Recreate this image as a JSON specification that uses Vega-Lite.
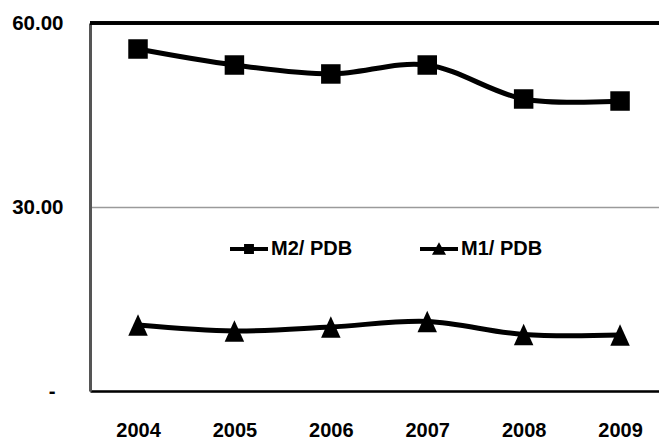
{
  "$schema": "https://vega.github.io/schema/vega-lite/v6.json",
  "width": 569,
  "height": 368,
  "autosize": "none",
  "padding": {"left": 90, "top": 23, "right": 0, "bottom": 50},
  "background": "white",
  "config": {
    "view": {"stroke": null},
    "font": "Liberation Sans"
  },
  "data": {
    "values": [
      {"year": 2004, "series": "M2/ PDB", "value": 55.76},
      {"year": 2005, "series": "M2/ PDB", "value": 53.15},
      {"year": 2006, "series": "M2/ PDB", "value": 51.69},
      {"year": 2007, "series": "M2/ PDB", "value": 53.15},
      {"year": 2008, "series": "M2/ PDB", "value": 47.61},
      {"year": 2009, "series": "M2/ PDB", "value": 47.28},
      {"year": 2004, "series": "M1/ PDB", "value": 10.76},
      {"year": 2005, "series": "M1/ PDB", "value": 9.78},
      {"year": 2006, "series": "M1/ PDB", "value": 10.44},
      {"year": 2007, "series": "M1/ PDB", "value": 11.33},
      {"year": 2008, "series": "M1/ PDB", "value": 9.21},
      {"year": 2009, "series": "M1/ PDB", "value": 9.13}
    ]
  },
  "layer": [
    {
      "mark": {"type": "line", "interpolate": "cardinal", "color": "black", "strokeWidth": 5},
      "encoding": {
        "x": {
          "field": "year",
          "type": "quantitative",
          "scale": {"domain": [2003.502, 2009.404], "nice": false, "zero": false},
          "axis": {
            "title": null,
            "values": [2004, 2005, 2006, 2007, 2008, 2009],
            "format": "d",
            "grid": false,
            "ticks": false,
            "labelFlush": false,
            "labelFontSize": 20,
            "labelFontWeight": "bold",
            "labelColor": "black",
            "labelPadding": 29,
            "domainColor": "black",
            "domainWidth": 2.5
          }
        },
        "y": {
          "field": "value",
          "type": "quantitative",
          "scale": {"domain": [0, 60], "nice": false},
          "axis": {
            "title": null,
            "values": [0, 30, 60],
            "labelExpr": "datum.value == 0 ? '-' : format(datum.value, '.2f')",
            "grid": true,
            "gridColor": "#9a9a9a",
            "gridWidth": 1.3,
            "ticks": false,
            "labelFontSize": 20.5,
            "labelFontWeight": "bold",
            "labelColor": "black",
            "labelPadding": {"condition": {"test": "datum.value == 0", "value": 35}, "value": 27},
            "domainColor": "#555555",
            "domainWidth": 3
          }
        },
        "detail": {"field": "series"}
      }
    },
    {
      "mark": {"type": "rule", "color": "black", "strokeWidth": 2.5},
      "encoding": {"y": {"datum": 60, "type": "quantitative"}}
    },
    {
      "mark": {
        "type": "point",
        "filled": true,
        "opacity": 1,
        "size": 380,
        "shape": {"expr": "datum.series === 'M2/ PDB' ? 'square' : 'M0,-1.1L1,1.1L-1,1.1Z'"}
      },
      "encoding": {
        "x": {"field": "year", "type": "quantitative"},
        "y": {"field": "value", "type": "quantitative"},
        "color": {
          "field": "series",
          "scale": {"domain": ["M2/ PDB", "M1/ PDB"], "range": ["black", "black"]},
          "legend": {
            "title": null,
            "orient": "none",
            "legendX": 140,
            "legendY": 207,
            "direction": "horizontal",
            "padding": 0,
            "symbolType": {"expr": "datum.value === 'M2/ PDB' ? 'M-1,-0.1H1V0.1H-1Z M-0.26,-0.26H0.26V0.26H-0.26Z' : 'M-1,-0.1H1V0.1H-1Z M0,-0.36L0.37,0.3H-0.37Z'"},
            "symbolSize": 1444,
            "symbolStrokeWidth": 0,
            "labelFontSize": 20,
            "labelFontWeight": "bold",
            "labelColor": "black",
            "labelOffset": 3,
            "columnPadding": 67
          }
        }
      }
    }
  ]
}
